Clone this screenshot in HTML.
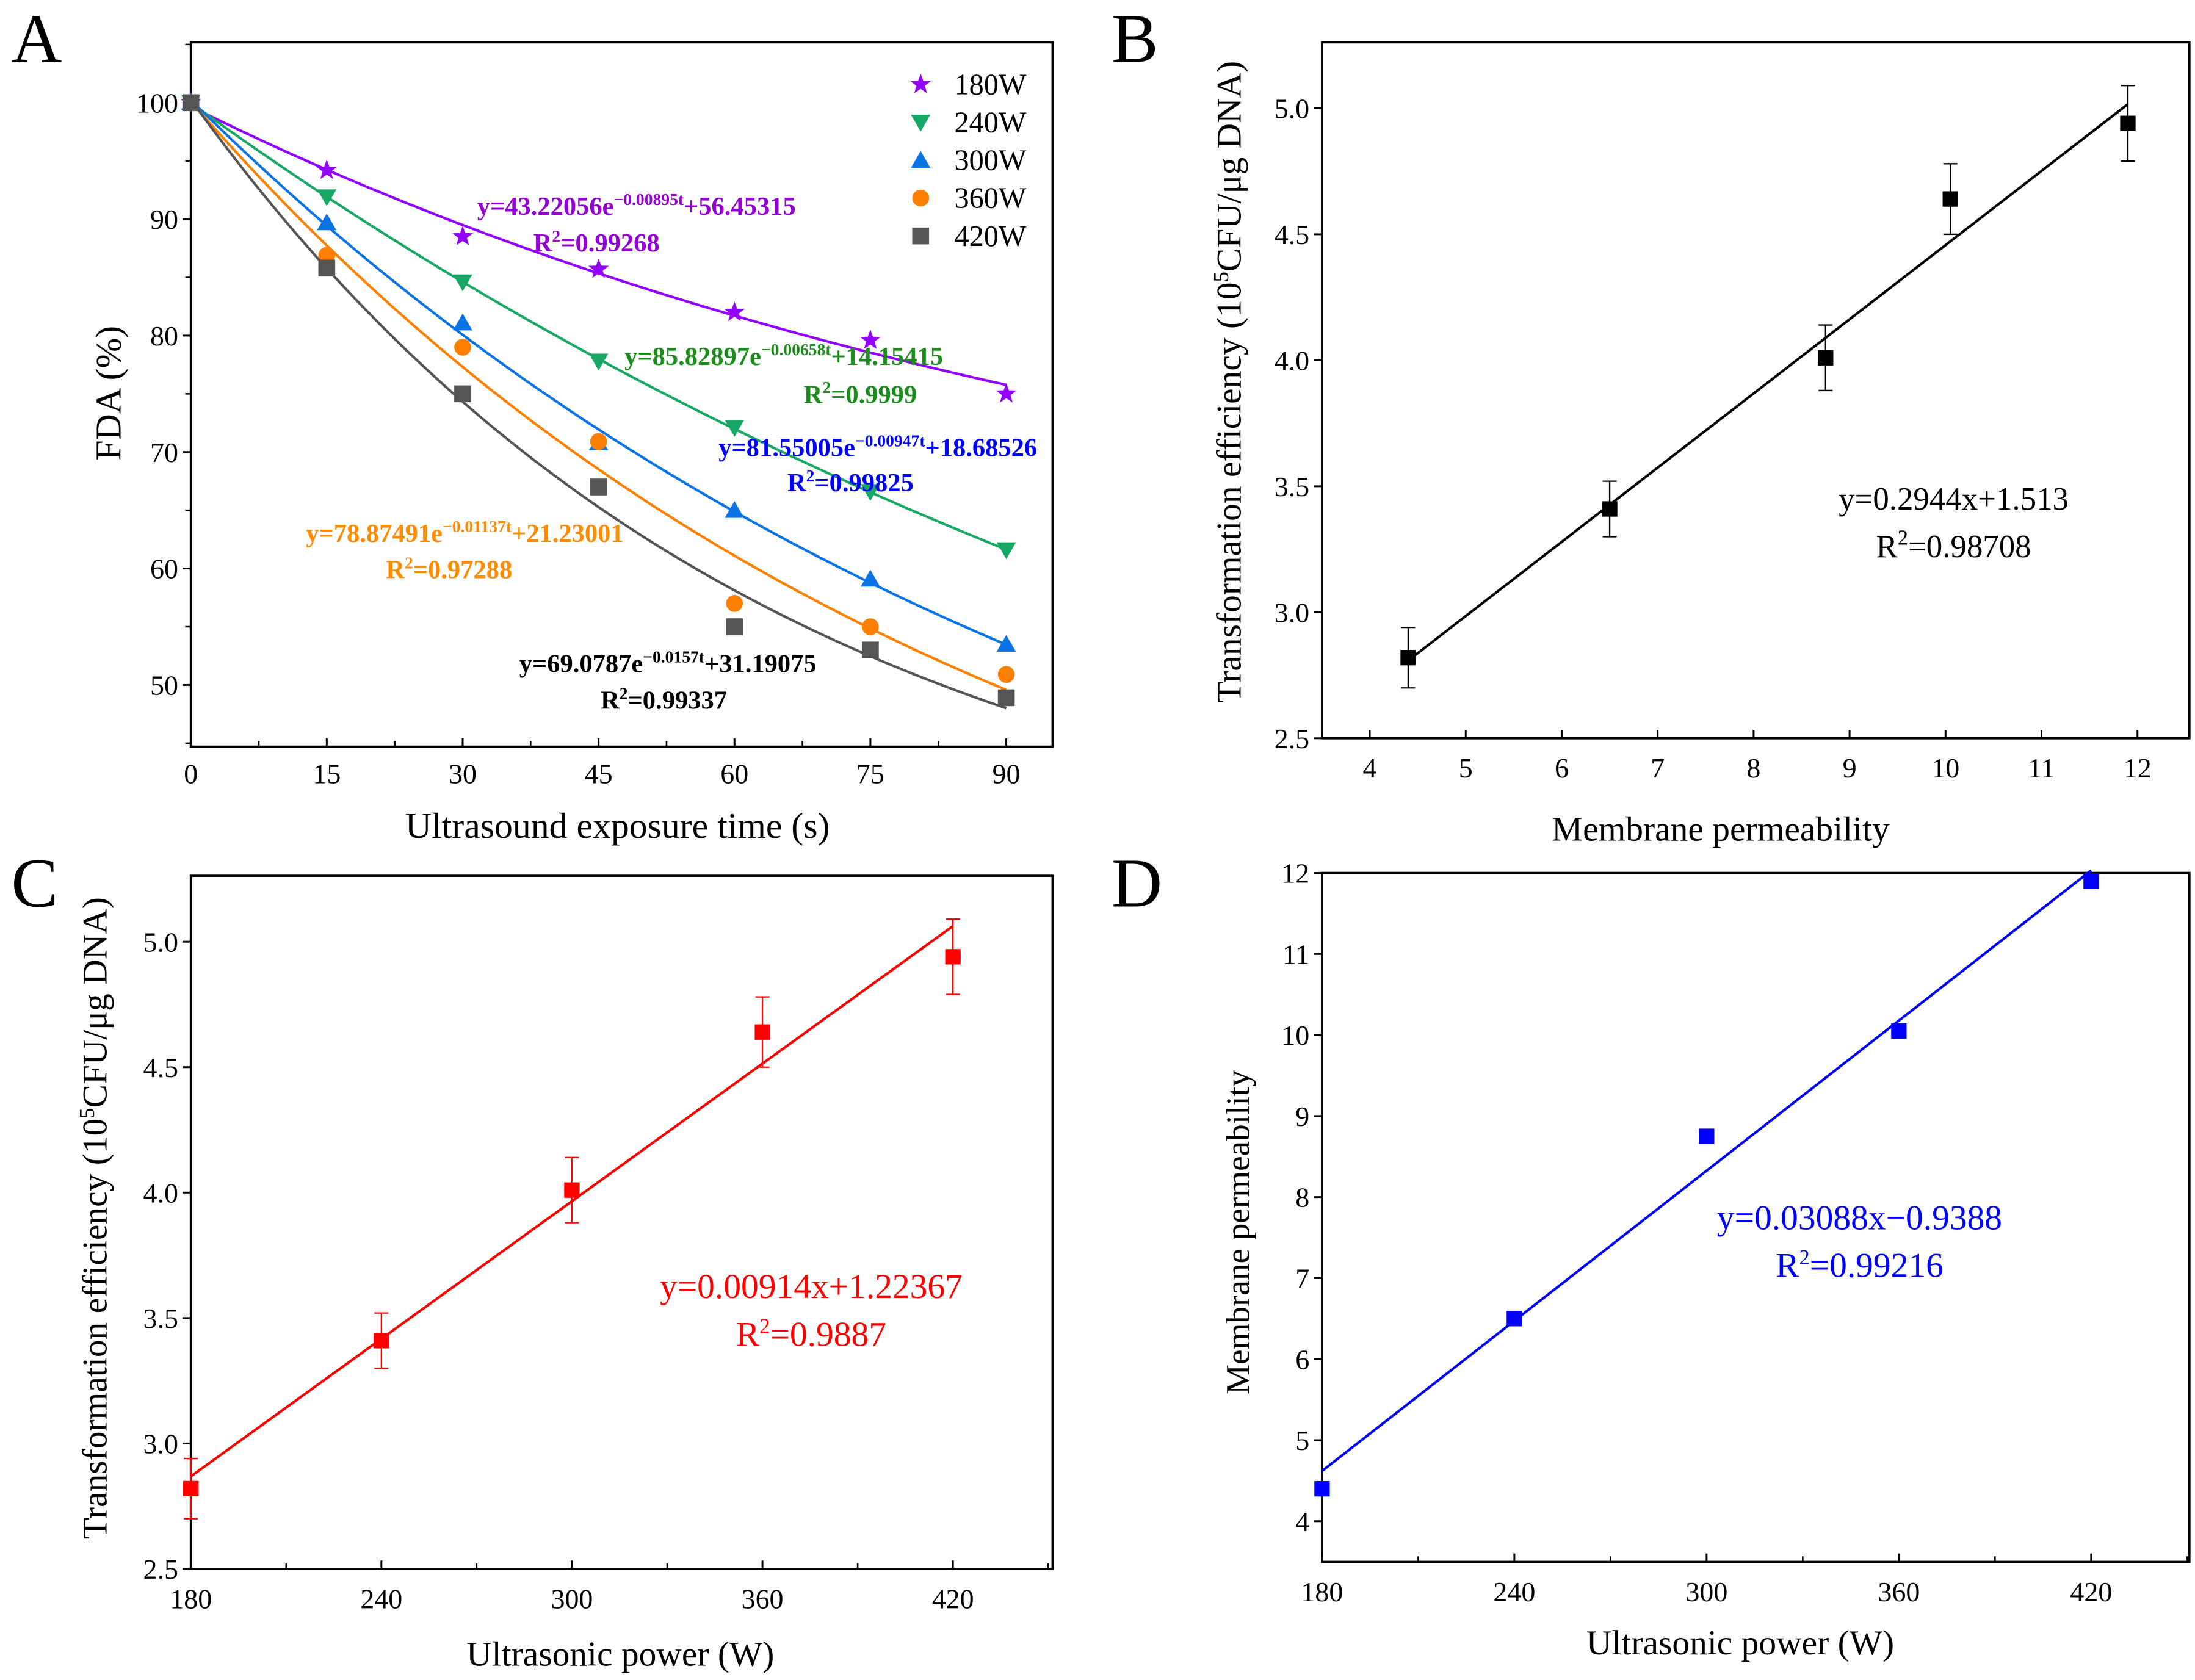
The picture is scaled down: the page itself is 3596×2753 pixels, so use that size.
<!DOCTYPE html>
<html><head><meta charset="utf-8"><style>
html,body{margin:0;padding:0;background:#fff;}
svg{display:block;font-family:"Liberation Serif",serif;}
</style></head><body>
<svg id="fig" width="3596" height="2753" viewBox="0 0 1564 1197" xmlns="http://www.w3.org/2000/svg">
<rect width="1564" height="1197" fill="#fff"/>
<g id="layer"></g>
</svg>
<script>
// ---- Panel A data ----
const timesA = [0, 15, 30, 45, 60, 75, 90];
const seriesNamesA = ["180W", "240W", "300W", "360W", "420W"];
const fda180 = [100, 94.2, 88.5, 85.7, 82.0, 79.6, 75.0];
const fda240 = [100, 91.9, 84.6, 77.8, 72.1, 66.6, 61.6];
const fda300 = [100, 89.7, 81.1, 70.8, 65.0, 59.1, 53.5];
const fda360 = [100, 86.9, 79.0, 70.9, 57.0, 55.0, 50.9];
const fda420 = [100, 85.8, 75.0, 67.0, 55.0, 53.0, 48.9];
const fitA_amp = [43.22056, 85.82897, 81.55005, 78.87491, 69.0787];
const fitA_k = [0.00895, 0.00658, 0.00947, 0.01137, 0.0157];
const fitA_c = [56.45315, 14.15415, 18.68526, 21.23001, 31.19075];
const xTicksA = [0, 15, 30, 45, 60, 75, 90];
const yTicksA = [50, 60, 70, 80, 90, 100];
// ---- Panel B/C/D data ----
const permeability = [4.4, 6.5, 8.75, 10.05, 11.9];
const transEff = [2.82, 3.41, 4.01, 4.64, 4.94];
const transErr = [0.12, 0.11, 0.13, 0.14, 0.15];
const power = [180, 240, 300, 360, 420];
const fitB = [0.2944, 1.513];
const fitC = [0.00914, 1.22367];
const fitD = [0.03088, -0.9388];
const xTicksB = [4, 5, 6, 7, 8, 9, 10, 11, 12];
const yTicksB = [2.5, 3.0, 3.5, 4.0, 4.5, 5.0];
const xTicksC = [180, 240, 300, 360, 420];
const yTicksD = [4, 5, 6, 7, 8, 9, 10, 11, 12];

const NS = "http://www.w3.org/2000/svg";
const layer = document.getElementById("layer");
function el(tag, attrs, parent, text) {
  const e = document.createElementNS(NS, tag);
  for (const k in attrs) e.setAttribute(k, attrs[k]);
  if (text !== undefined) e.textContent = text;
  (parent || layer).appendChild(e);
  return e;
}
function lin(d0, d1, r0, r1) { return v => r0 + (v - d0) * (r1 - r0) / (d1 - d0); }

function frame(g, x0, y0, x1, y1) {
  const r = el("rect", {x: x0, y: y0, width: x1 - x0, height: y1 - y0, fill: "none", stroke: "#000", "stroke-width": 1.6}, g);
  
  
}
function xAxis(g, ticks, sx, yb, fmt, minor, ty) {
  ticks.forEach(t => {
    el("line", {x1: sx(t), x2: sx(t), y1: yb, y2: yb - 6, stroke: "#000", "stroke-width": 1.3}, g);
    const tx = el("text", {x: sx(t), y: ty, "font-size": 20, "text-anchor": "middle"}, g, fmt(t));
    
    
  });
  (minor || []).forEach(t => el("line", {x1: sx(t), x2: sx(t), y1: yb, y2: yb - 4, stroke: "#000", "stroke-width": 1.1}, g));
}
function yAxis(g, ticks, sy, xl, fmt, minor) {
  ticks.forEach(t => {
    el("line", {x1: xl, x2: xl - 6, y1: sy(t), y2: sy(t), stroke: "#000", "stroke-width": 1.3}, g);
    const tx = el("text", {x: xl - 9, y: sy(t) + 7, "font-size": 20, "text-anchor": "end"}, g, fmt(t));
    
    
  });
  (minor || []).forEach(t => el("line", {x1: xl, x2: xl - 4, y1: sy(t), y2: sy(t), stroke: "#000", "stroke-width": 1.1}, g));
}
function title(g, txt, x, y, rot, name, size) {
  const t = el("text", {x: x, y: y, "font-size": size || 22, "text-anchor": "middle", transform: rot ? `rotate(-90 ${x} ${y})` : ""}, g);
  t.innerHTML = txt;
  
  
  return t;
}
function letter(txt, x, y) {
  const t = el("text", {x: x, y: y, "font-size": 50}, layer, txt);
  
  
}
function marker(g, type, x, y, color, s) {
  let m;
  if (type === "square") m = el("rect", {x: x - s, y: y - s, width: 2 * s, height: 2 * s, fill: color}, g);
  else if (type === "circle") m = el("circle", {cx: x, cy: y, r: s, fill: color}, g);
  else if (type === "up") m = el("polygon", {points: `${x},${y - s * 1.1} ${x - s * 1.15},${y + s * 0.9} ${x + s * 1.15},${y + s * 0.9}`, fill: color}, g);
  else if (type === "down") m = el("polygon", {points: `${x},${y + s * 1.1} ${x - s * 1.15},${y - s * 0.9} ${x + s * 1.15},${y - s * 0.9}`, fill: color}, g);
  else {
    let p = [];
    for (let i = 0; i < 10; i++) {
      const a = -Math.PI / 2 + i * Math.PI / 5, r = i % 2 ? s * 0.45 : s * 1.1;
      p.push((x + r * Math.cos(a)).toFixed(2) + "," + (y + r * Math.sin(a)).toFixed(2));
    }
    m = el("polygon", {points: p.join(" "), fill: color}, g);
  }
  return m;
}

// ================= Panel A =================
(function () {
  const g = el("g", {});
  
  
  const sx = lin(0, 90, 136, 717), sy = lin(50, 100, 488, 73);
  frame(g, 136, 30, 750, 532);
  const mx = [7.5, 22.5, 37.5, 52.5, 67.5, 82.5];
  const my = [45, 55, 65, 75, 85, 95, 105];
  xAxis(g, xTicksA, sx, 532, t => t, mx, 558);
  yAxis(g, yTicksA, sy, 136, t => t, my);
  const colors = ["#9400ff", "#17a865", "#0a74e6", "#ff8000", "#555555"];
  const types = ["star", "down", "up", "circle", "square"];
  const all = [fda180, fda240, fda300, fda360, fda420];
  all.forEach((vals, i) => {
    let pts = [];
    for (let t = 0; t <= 90; t += 1) pts.push(sx(t).toFixed(2) + "," + sy(fitA_amp[i] * Math.exp(-fitA_k[i] * t) + fitA_c[i]).toFixed(2));
    const pl = el("polyline", {points: pts.join(" "), fill: "none", stroke: colors[i], "stroke-width": 1.8}, g);
    
    
    vals.forEach((v, j) => {
      const m = marker(g, types[i], sx(timesA[j]), sy(v), colors[i], types[i] === "star" ? 7 : 6);
      
      
    });
    const ly = 60 + i * 27;
    const lm = marker(g, types[i], 656, ly, colors[i], types[i] === "star" ? 7 : 6);
    
    
    const lt = el("text", {x: 680, y: ly + 7, "font-size": 21}, g, seriesNamesA[i]);
    
    
  });
  const eqs = [
    ["#9400d3", 340, 153, 425, 179, "y=43.22056e<tspan font-size='12' dy='-7'>−0.00895t</tspan><tspan dy='7'>+56.45315</tspan>", "R<tspan font-size='12' dy='-7'>2</tspan><tspan dy='7'>=0.99268</tspan>"],
    ["#1a8c1a", 445, 260, 613, 287, "y=85.82897e<tspan font-size='12' dy='-7'>−0.00658t</tspan><tspan dy='7'>+14.15415</tspan>", "R<tspan font-size='12' dy='-7'>2</tspan><tspan dy='7'>=0.9999</tspan>"],
    ["#0000ff", 512, 325, 606, 350, "y=81.55005e<tspan font-size='12' dy='-7'>−0.00947t</tspan><tspan dy='7'>+18.68526</tspan>", "R<tspan font-size='12' dy='-7'>2</tspan><tspan dy='7'>=0.99825</tspan>"],
    ["#ff8c00", 218, 386, 320, 412, "y=78.87491e<tspan font-size='12' dy='-7'>−0.01137t</tspan><tspan dy='7'>+21.23001</tspan>", "R<tspan font-size='12' dy='-7'>2</tspan><tspan dy='7'>=0.97288</tspan>"],
    ["#000000", 370, 479, 473, 505, "y=69.0787e<tspan font-size='12' dy='-7'>−0.0157t</tspan><tspan dy='7'>+31.19075</tspan>", "R<tspan font-size='12' dy='-7'>2</tspan><tspan dy='7'>=0.99337</tspan>"]
  ];
  eqs.forEach((e, i) => {
    const t1 = el("text", {x: e[1], y: e[2], "font-size": 18.5, "font-weight": "bold", fill: e[0]}, g);
    t1.innerHTML = e[5];
    
    
    const t2 = el("text", {x: e[3], y: e[4], "font-size": 18.5, "font-weight": "bold", fill: e[0], "text-anchor": "middle"}, g);
    t2.innerHTML = e[6];
    
    
  });
  title(g, "FDA (%)", 86, 280, true, "y-axis-title", 26);
  title(g, "Ultrasound exposure time (s)", 440, 597, false, "x-axis-title", 26);
  letter("A", 8, 44);
})();

// generic linear panel
function linPanel(opt) {
  const g = el("g", {});
  
  
  const sx = lin(opt.xd[0], opt.xd[1], opt.xr[0], opt.xr[1]);
  const sy = lin(opt.yd[0], opt.yd[1], opt.yr[0], opt.yr[1]);
  frame(g, opt.f[0], opt.f[1], opt.f[2], opt.f[3]);
  xAxis(g, opt.xt, sx, opt.f[3], opt.xfmt, opt.mx, opt.f[3] + 28);
  yAxis(g, opt.yt, sy, opt.f[0], opt.yfmt, opt.my);
  const x0 = opt.xs[0], x1 = opt.xs[opt.xs.length - 1];
  const fl = el("line", {x1: sx(x0), y1: sy(opt.fit[0] * x0 + opt.fit[1]), x2: sx(x1), y2: sy(opt.fit[0] * x1 + opt.fit[1]), stroke: opt.lc, "stroke-width": 1.8}, g);
  
  
  opt.xs.forEach((xv, i) => {
    const X = sx(xv), Y = sy(opt.ys[i]);
    if (opt.err) {
      const e = opt.err[i];
      const eb = el("path", {d: `M${X},${sy(opt.ys[i] - e)}V${sy(opt.ys[i] + e)}M${X - 5},${sy(opt.ys[i] - e)}h10M${X - 5},${sy(opt.ys[i] + e)}h10`, stroke: opt.ec, "stroke-width": 1, fill: "none"}, g);
      
      
    }
    const m = marker(g, "square", X, Y, opt.mc, 5.5);
    
    
  });
  const t1 = el("text", {x: opt.eq[0], y: opt.eq[1], "font-size": opt.es, fill: opt.tc, "text-anchor": "middle"}, g, opt.eqText);
  
  
  const t2 = el("text", {x: opt.eq[0], y: opt.eq[1] + 34, "font-size": opt.es, fill: opt.tc, "text-anchor": "middle"}, g);
  t2.innerHTML = "R<tspan font-size='15' dy='-9'>2</tspan><tspan dy='9'>=" + opt.r2 + "</tspan>";
  
  
  title(g, opt.ytitle, opt.yti[0], opt.yti[1], true, "y-axis-title", opt.yts);
  title(g, opt.xtitle, opt.xti[0], opt.xti[1], false, "x-axis-title", 25);
}
const tfTitle = "Transformation efficiency (10<tspan font-size='15' dy='-9'>5</tspan><tspan dy='9'>CFU/μg DNA)</tspan>";

linPanel({name: "panel-b-chart", f: [942, 30, 1560, 526], xd: [4, 12], xr: [976, 1523], yd: [2.5, 5], yr: [526, 77],
  xt: xTicksB, yt: yTicksB, xfmt: t => t, yfmt: t => t.toFixed(1), xs: permeability, ys: transEff, err: transErr,
  fit: fitB, lc: "#000", mc: "#000", ec: "#000", tc: "#000", eq: [1392, 363], es: 23, eqText: "y=0.2944x+1.513", r2: "0.98708",
  ytitle: tfTitle, yti: [884, 272], yts: 25, xtitle: "Membrane permeability", xti: [1226, 599]});
letter("B", 792, 44);

linPanel({name: "panel-c-chart", f: [136, 624, 750, 1118], xd: [180, 420], xr: [136, 679], yd: [2.5, 5], yr: [1118, 671],
  xt: xTicksC, yt: yTicksB, xfmt: t => t, yfmt: t => t.toFixed(1), mx: [210, 270, 330, 390, 450], xs: power, ys: transEff, err: transErr,
  fit: fitC, lc: "#ff0000", mc: "#ff0000", ec: "#ff0000", tc: "#ff0000", eq: [578, 925], es: 25, eqText: "y=0.00914x+1.22367", r2: "0.9887",
  ytitle: tfTitle, yti: [76, 868], yts: 25, xtitle: "Ultrasonic power (W)", xti: [442, 1187]});
letter("C", 8, 646);

linPanel({name: "panel-d-chart", f: [942, 622, 1560, 1113], xd: [180, 420], xr: [942, 1490], yd: [4, 12], yr: [1084, 622],
  xt: xTicksC, yt: yTicksD, xfmt: t => t, yfmt: t => t, mx: [210, 270, 330, 390, 450], xs: power, ys: permeability, err: null,
  fit: fitD, lc: "#0000ff", mc: "#0000ff", ec: "#0000ff", tc: "#0000ff", eq: [1325, 876], es: 25, eqText: "y=0.03088x−0.9388", r2: "0.99216",
  ytitle: "Membrane permeability", yti: [890, 878], yts: 24, xtitle: "Ultrasonic power (W)", xti: [1240, 1179]});
letter("D", 792, 646);
</script>
</body></html>
